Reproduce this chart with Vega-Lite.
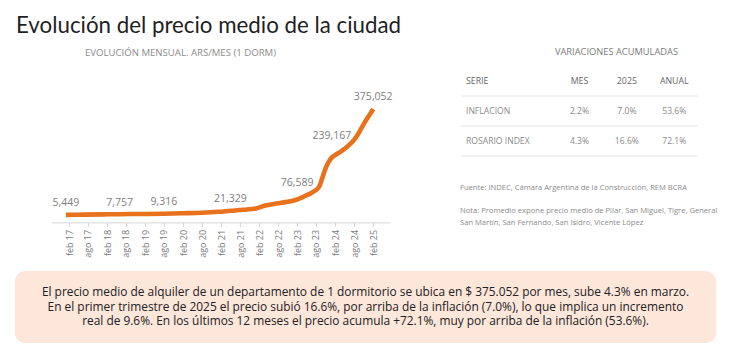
{
  "$schema": "https://vega.github.io/schema/vega-lite/v6.json",
  "background": "#ffffff",
  "padding": {"left": 15, "top": 14, "right": 0, "bottom": 0},
  "config": {"font": "Open Sans", "view": {"stroke": null}},
  "title": {"text": "Evolución del precio medio de la ciudad", "anchor": "start", "font": "Lato", "fontSize": 22.3, "fontWeight": 400, "color": "#1f1f1f", "offset": 10.7, "dx": 1},
  "datasets": {
    "serie": [
      {"fecha": "2017-01-01T00:00", "valor": 5449},
      {"fecha": "2017-07-01T00:00", "valor": 6300},
      {"fecha": "2018-01-01T00:00", "valor": 7100},
      {"fecha": "2018-06-01T00:00", "valor": 7757},
      {"fecha": "2019-01-01T00:00", "valor": 8500},
      {"fecha": "2019-08-01T00:00", "valor": 9316},
      {"fecha": "2020-02-01T00:00", "valor": 11000},
      {"fecha": "2020-08-01T00:00", "valor": 13000},
      {"fecha": "2021-01-01T00:00", "valor": 16000},
      {"fecha": "2021-05-01T00:00", "valor": 19500},
      {"fecha": "2021-09-01T00:00", "valor": 23000},
      {"fecha": "2022-01-01T00:00", "valor": 27600},
      {"fecha": "2022-04-01T00:00", "valor": 38000},
      {"fecha": "2022-07-01T00:00", "valor": 44000},
      {"fecha": "2022-09-01T00:00", "valor": 47500},
      {"fecha": "2022-12-01T00:00", "valor": 53000},
      {"fecha": "2023-02-01T00:00", "valor": 59000},
      {"fecha": "2023-04-01T00:00", "valor": 68400},
      {"fecha": "2023-07-01T00:00", "valor": 85000},
      {"fecha": "2023-09-01T00:00", "valor": 104000},
      {"fecha": "2023-10-01T00:00", "valor": 135000},
      {"fecha": "2023-11-01T00:00", "valor": 168000},
      {"fecha": "2023-12-01T00:00", "valor": 190000},
      {"fecha": "2024-01-01T00:00", "valor": 206000},
      {"fecha": "2024-02-01T00:00", "valor": 214000},
      {"fecha": "2024-04-01T00:00", "valor": 228000},
      {"fecha": "2024-06-01T00:00", "valor": 245000},
      {"fecha": "2024-08-01T00:00", "valor": 267000},
      {"fecha": "2024-09-01T00:00", "valor": 283000},
      {"fecha": "2024-10-01T00:00", "valor": 302000},
      {"fecha": "2024-11-01T00:00", "valor": 322000},
      {"fecha": "2024-12-01T00:00", "valor": 340000},
      {"fecha": "2025-01-01T00:00", "valor": 357000},
      {"fecha": "2025-02-01T00:00", "valor": 375052}
    ],
    "etiquetas": [
      {"fecha": "2017-01-01T00:00", "valor": 5449},
      {"fecha": "2018-06-01T00:00", "valor": 7757},
      {"fecha": "2019-08-01T00:00", "valor": 9316},
      {"fecha": "2021-05-01T00:00", "valor": 21329},
      {"fecha": "2023-02-01T00:00", "valor": 76589},
      {"fecha": "2024-01-01T00:00", "valor": 239167},
      {"fecha": "2025-02-01T00:00", "valor": 375052}
    ],
    "tabla": [
      {"fila": "SERIE", "col": "SERIE", "texto": "SERIE"},
      {"fila": "SERIE", "col": "MES", "texto": "MES"},
      {"fila": "SERIE", "col": "2025", "texto": "2025"},
      {"fila": "SERIE", "col": "ANUAL", "texto": "ANUAL"},
      {"fila": "INFLACION", "col": "SERIE", "texto": "INFLACION"},
      {"fila": "INFLACION", "col": "MES", "texto": "2.2%"},
      {"fila": "INFLACION", "col": "2025", "texto": "7.0%"},
      {"fila": "INFLACION", "col": "ANUAL", "texto": "53.6%"},
      {"fila": "ROSARIO INDEX", "col": "SERIE", "texto": "ROSARIO INDEX"},
      {"fila": "ROSARIO INDEX", "col": "MES", "texto": "4.3%"},
      {"fila": "ROSARIO INDEX", "col": "2025", "texto": "16.6%"},
      {"fila": "ROSARIO INDEX", "col": "ANUAL", "texto": "72.1%"}
    ],
    "notas": [
      {"linea": 1, "texto": "Fuente: INDEC, Cámara Argentina de la Construcción, REM BCRA"},
      {"linea": 3, "texto": "Nota: Promedio expone precio medio de Pilar, San Miguel, Tigre, General"},
      {"linea": 4, "texto": "San Martín, San Fernando, San Isidro, Vicente López"}
    ],
    "resumen": [
      {"linea": 1, "texto": "El precio medio de alquiler de un departamento de 1 dormitorio se ubica en $ 375.052 por mes, sube 4.3% en marzo."},
      {"linea": 2, "texto": "En el primer trimestre de 2025 el precio subió 16.6%, por arriba de la inflación (7.0%), lo que implica un incremento"},
      {"linea": 3, "texto": "real de 9.6%. En los últimos 12 meses el precio acumula +72.1%, muy por arriba de la inflación (53.6%)."}
    ]
  },
  "spacing": 13,
  "vconcat": [
    {
      "spacing": 67,
      "hconcat": [
        {
          "width": 375,
          "height": 150.4,
          "title": {"text": "EVOLUCIÓN MENSUAL. ARS/MES (1 DORM)", "anchor": "start", "frame": "group", "dx": 70, "fontSize": 9.6, "fontWeight": 400, "color": "#8c8c8c", "offset": 8.5},
          "layer": [
            {
              "data": {"name": "serie"},
              "mark": {"type": "line", "color": "#e8711c", "strokeWidth": 4.6, "interpolate": "monotone", "strokeCap": "butt"},
              "encoding": {
                "x": {
                  "field": "fecha", "type": "temporal",
                  "scale": {"domain": [{"year": 2016, "month": 8, "date": 11}, {"year": 2025, "month": 7, "date": 12}], "range": [36, 375]},
                  "axis": {
                    "title": null, "grid": false, "tickCount": 40,
                    "values": [
                      {"year": 2017, "month": 2, "date": 1}, {"year": 2017, "month": 8, "date": 1},
                      {"year": 2018, "month": 2, "date": 1}, {"year": 2018, "month": 8, "date": 1},
                      {"year": 2019, "month": 2, "date": 1}, {"year": 2019, "month": 8, "date": 1},
                      {"year": 2020, "month": 2, "date": 1}, {"year": 2020, "month": 8, "date": 1},
                      {"year": 2021, "month": 2, "date": 1}, {"year": 2021, "month": 8, "date": 1},
                      {"year": 2022, "month": 2, "date": 1}, {"year": 2022, "month": 8, "date": 1},
                      {"year": 2023, "month": 2, "date": 1}, {"year": 2023, "month": 8, "date": 1},
                      {"year": 2024, "month": 2, "date": 1}, {"year": 2024, "month": 8, "date": 1},
                      {"year": 2025, "month": 2, "date": 1}
                    ],
                    "labelExpr": "(month(datum.value) == 1 ? 'feb' : 'ago') + ' ' + timeFormat(datum.value, '%y')",
                    "labelAngle": -90, "labelFontSize": 9, "labelColor": "#7a7a7a", "labelPadding": 3,
                    "labelOverlap": false, "labelFlush": false, "labelBound": false,
                    "domainColor": "#d6d6d6", "tickColor": "#d6d6d6", "tickSize": 4, "offset": 6
                  }
                },
                "y": {
                  "field": "valor", "type": "quantitative",
                  "scale": {"domain": [0, 400000], "nice": false, "range": [150.4, 35.8]},
                  "axis": null
                }
              }
            },
            {
              "data": {"name": "etiquetas"},
              "mark": {"type": "text", "fontSize": 10.5, "color": "#7d7d7d", "baseline": "middle", "dy": -11.5},
              "encoding": {
                "x": {"field": "fecha", "type": "temporal"},
                "y": {"field": "valor", "type": "quantitative"},
                "text": {"field": "valor", "type": "quantitative", "format": ","}
              }
            }
          ]
        },
        {
          "width": 237,
          "height": 90,
          "title": {"text": "VARIACIONES ACUMULADAS", "anchor": "middle", "frame": "group", "dx": 37, "fontSize": 9.3, "fontWeight": 400, "color": "#7a7a7a", "offset": 8.5},
          "resolve": {"scale": {"y": "independent"}},
          "layer": [
            {
              "data": {"name": "tabla"},
              "transform": [{"filter": "datum.col == 'SERIE'"}],
              "mark": {"type": "rule", "color": "#e4e4e4", "strokeWidth": 1},
              "encoding": {
                "y": {"field": "fila", "type": "nominal", "bandPosition": 1, "scale": {"type": "band", "domain": ["SERIE", "INFLACION", "ROSARIO INDEX"], "paddingInner": 0, "paddingOuter": 0}, "axis": null}
              }
            },
            {
              "data": {"name": "tabla"},
              "transform": [{"filter": "datum.col == 'SERIE'"}],
              "mark": {"type": "text", "align": "left", "baseline": "middle", "dx": 5},
              "encoding": {
                "x": {"field": "col", "type": "nominal", "bandPosition": 0, "scale": {"type": "band", "domain": ["SERIE", " ", "MES", "2025", "ANUAL"], "paddingInner": 0, "paddingOuter": 0}, "axis": null},
                "y": {"field": "fila", "type": "nominal", "scale": {"type": "band", "domain": ["SERIE", "INFLACION", "ROSARIO INDEX"], "paddingInner": 0, "paddingOuter": 0}, "axis": null},
                "text": {"field": "texto"},
                "color": {"condition": {"test": "datum.fila == 'SERIE'", "value": "#666666"}, "value": "#8a8a8a"},
                "size": {"condition": {"test": "datum.fila == 'SERIE'", "value": 8.8}, "value": 8.6}
              }
            },
            {
              "data": {"name": "tabla"},
              "transform": [{"filter": "datum.col != 'SERIE'"}],
              "mark": {"type": "text", "align": "center", "baseline": "middle"},
              "encoding": {
                "x": {"field": "col", "type": "nominal", "scale": {"type": "band", "domain": ["SERIE", " ", "MES", "2025", "ANUAL"], "paddingInner": 0, "paddingOuter": 0}, "axis": null},
                "y": {"field": "fila", "type": "nominal", "scale": {"type": "band", "domain": ["SERIE", "INFLACION", "ROSARIO INDEX"], "paddingInner": 0, "paddingOuter": 0}, "axis": null},
                "text": {"field": "texto"},
                "color": {"condition": {"test": "datum.fila == 'SERIE'", "value": "#666666"}, "value": "#8a8a8a"},
                "size": {"condition": {"test": "datum.fila == 'SERIE'", "value": 8.8}, "value": 8.6}
              }
            },
            {
              "data": {"name": "notas"},
              "mark": {"type": "text", "align": "left", "baseline": "middle", "fontSize": 7.6, "color": "#8a8a8a", "dx": -1},
              "encoding": {
                "x": {"datum": "SERIE", "bandPosition": 0},
                "y": {"field": "linea", "type": "ordinal", "scale": {"type": "point", "domain": [1, 2, 3, 4], "range": [122, 157.1], "padding": 0}, "axis": null},
                "text": {"field": "texto"}
              }
            }
          ]
        }
      ]
    },
    {
      "width": 701,
      "height": 72,
      "view": {"fill": "#fde6da", "stroke": null, "cornerRadius": 10},
      "data": {"name": "resumen"},
      "mark": {"type": "text", "fontSize": 11.9, "color": "#222222", "baseline": "middle"},
      "encoding": {
        "y": {"field": "linea", "type": "ordinal", "scale": {"type": "point", "range": [21, 50], "padding": 0}, "axis": null},
        "text": {"field": "texto"}
      }
    }
  ]
}
